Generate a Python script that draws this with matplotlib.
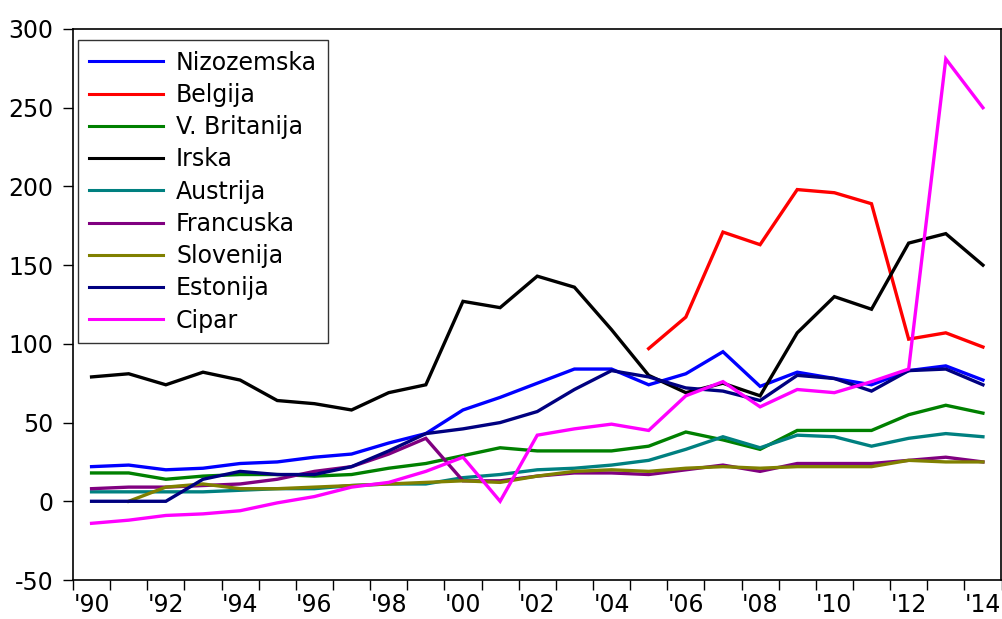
import numpy as np
import matplotlib
matplotlib.use("Agg")
import matplotlib.pyplot as plt
from matplotlib.ticker import FixedLocator, FixedFormatter

plt.rcParams['font.family'] = ['DejaVu Sans']

years = list(range(1990, 2015))
nan = np.nan

nizozemska = [22, 23, 20, 21, 24, 25, 28, 30, 37, 43, 58, 66, 75, 84, 84, 74, 81, 95, 73, 82, 78, 74, 83, 86, 77]
belgija = [nan]*15 + [97, 117, 171, 163, 198, 196, 189, 103, 107, 98]
v_britanija = [18, 18, 14, 16, 17, 17, 16, 17, 21, 24, 29, 34, 32, 32, 32, 35, 44, 39, 33, 45, 45, 45, 55, 61, 56]
irska = [79, 81, 74, 82, 77, 64, 62, 58, 69, 74, 127, 123, 143, 136, 109, 80, 69, 75, 67, 107, 130, 122, 164, 170, 150]
austrija = [6, 6, 6, 6, 7, 8, 8, 10, 11, 11, 15, 17, 20, 21, 23, 26, 33, 41, 34, 42, 41, 35, 40, 43, 41]
francuska = [8, 9, 9, 10, 11, 14, 19, 22, 30, 40, 13, 13, 16, 18, 18, 17, 20, 23, 19, 24, 24, 24, 26, 28, 25]
slovenija = [nan, 0, 9, 11, 8, 8, 9, 10, 11, 12, 13, 12, 16, 19, 20, 19, 21, 22, 21, 22, 22, 22, 26, 25, 25]
estonija = [0, 0, 0, 14, 19, 17, 17, 22, 32, 43, 46, 50, 57, 71, 83, 79, 72, 70, 64, 80, 78, 70, 83, 84, 74]
cipar = [-14, -12, -9, -8, -6, -1, 3, 9, 12, 19, 28, 0, 42, 46, 49, 45, 67, 76, 60, 71, 69, 76, 84, 281, 250]

series = [
    ("Nizozemska", nizozemska, "#0000FF"),
    ("Belgija", belgija, "#FF0000"),
    ("V. Britanija", v_britanija, "#008000"),
    ("Irska", irska, "#000000"),
    ("Austrija", austrija, "#008080"),
    ("Francuska", francuska, "#800080"),
    ("Slovenija", slovenija, "#808000"),
    ("Estonija", estonija, "#000080"),
    ("Cipar", cipar, "#FF00FF"),
]

yticks = [-50, 0, 50, 100, 150, 200, 250, 300]
xlabel_years = list(range(1990, 2015, 2))
xlabels = ["'%02d" % (y % 100) for y in xlabel_years]

W, H = 1003, 619
fig = plt.figure(figsize=(W/100, H/100), dpi=100)
ax = fig.add_axes([73/W, 1-580/H, (1001.5-73)/W, (580-29)/H])

for name, vals, col in series:
    ax.plot(years, vals, color=col, lw=2.4, label=name, solid_joinstyle='miter')

ax.set_xlim(1989.5, 2014.5)
ax.set_ylim(-50, 300)

fs = 17.0
ax.yaxis.set_major_locator(FixedLocator(yticks))
ax.yaxis.set_major_formatter(FixedFormatter([str(v) for v in yticks]))
ax.tick_params(axis='y', direction='out', length=7.2, width=1, pad=7, labelsize=fs)

ax.xaxis.set_major_locator(FixedLocator([y + 0.5 for y in range(1989, 2015)]))
ax.xaxis.set_major_formatter(FixedFormatter([''] * 26))
ax.xaxis.set_minor_locator(FixedLocator(xlabel_years))
ax.xaxis.set_minor_formatter(FixedFormatter(xlabels))
ax.tick_params(axis='x', which='major', direction='out', length=7.5, width=1)
ax.tick_params(axis='x', which='minor', length=0, pad=9, labelsize=fs)

for s in ax.spines.values():
    s.set_linewidth(1.2)

leg = ax.legend(loc='upper left', bbox_to_anchor=(0.0054, 0.980), borderaxespad=0,
                fontsize=fs, frameon=True, fancybox=False, edgecolor='black',
                handlelength=3.15, handletextpad=0.55, labelspacing=0.35,
                borderpad=0.45)
leg.get_frame().set_linewidth(1.0)
for lh in leg.get_lines():
    lh.set_linewidth(2.2)

fig.savefig("out.png", dpi=100)
